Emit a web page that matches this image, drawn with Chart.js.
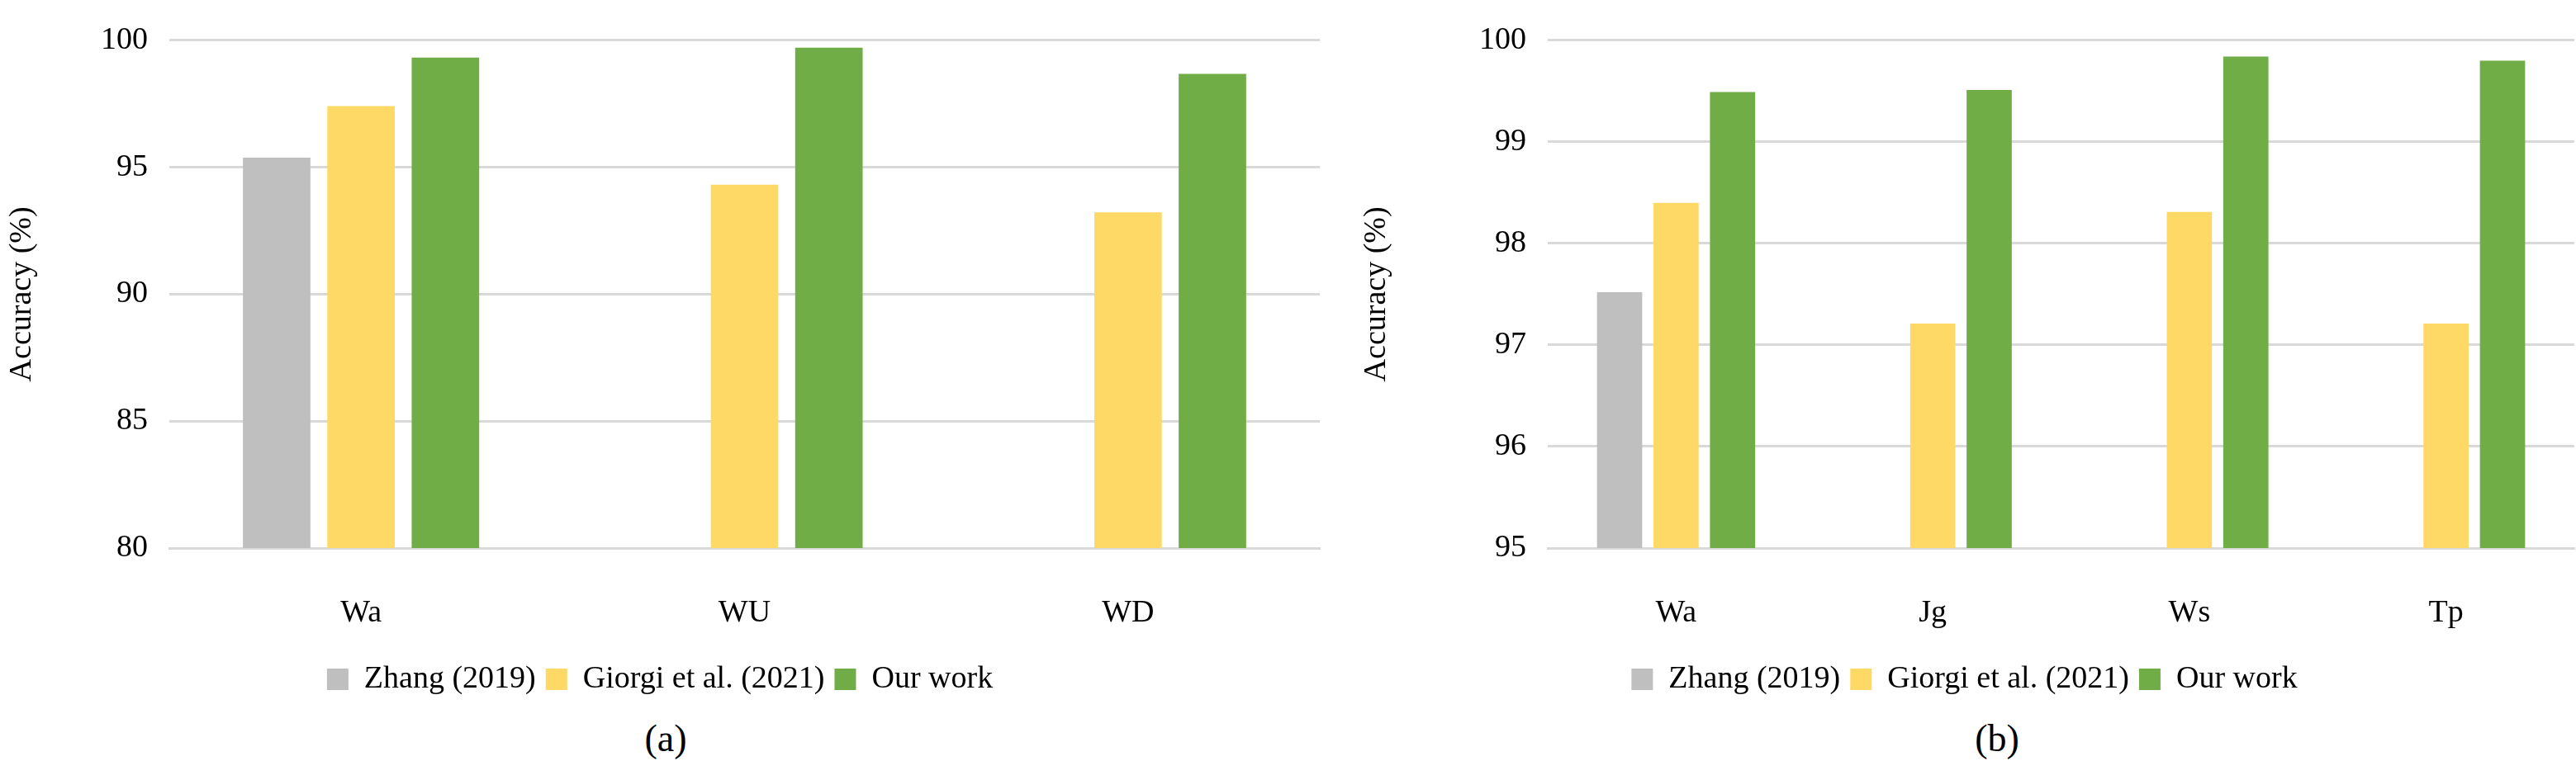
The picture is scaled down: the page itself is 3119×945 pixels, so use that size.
<!DOCTYPE html>
<html>
<head>
<meta charset="utf-8">
<script src="https://cdn.jsdelivr.net/npm/chart.js@4/dist/chart.umd.min.js"></script>
<style>
  html, body { margin: 0; padding: 0; background: #fff; }
  body { width: 3119px; height: 945px; position: relative; overflow: hidden; font-family: "Liberation Serif", serif; }
  .box { position: absolute; top: 0; }
  .cap { position: absolute; top: 868px; font-size: 46px; color: #000; transform: translateX(-50%); }
</style>
</head>
<body>
<div class="box" style="left:0;width:1600px;height:852px"><canvas id="chartA"></canvas></div>
<div class="box" style="left:1640px;width:1479px;height:852px"><canvas id="chartB"></canvas></div>
<div class="cap" style="left:806px">(a)</div>
<div class="cap" style="left:2418px">(b)</div>
<script>
  // panel (a)
  var catsA = ["Wa", "WU", "WD"];
  var zhangA = [95.38, null, null];
  var giorgiA = [97.41, 94.31, 93.22];
  var oursA = [99.32, 99.71, 98.68];
  var ticksA = [80, 85, 90, 95, 100];

  // panel (b)
  var catsB = ["Wa", "Jg", "Ws", "Tp"];
  var zhangB = [97.52, null, null, null];
  var giorgiB = [98.40, 97.21, 98.31, 97.21];
  var oursB = [99.49, 99.51, 99.84, 99.80];
  var ticksB = [95, 96, 97, 98, 99, 100];

  var names = ["Zhang (2019)", "Giorgi et al. (2021)", "Our work"];
  var colors = ["#bfbfbf", "#ffd966", "#70ad47"];
  var FONT = "'Liberation Serif', serif";

  function make(id, cats, series, ticks, yW) {
    var sets = series.map(function (d, i) {
      return { label: names[i], data: d, backgroundColor: colors[i], borderWidth: 0,
        categoryPercentage: 0.66, barPercentage: 0.8 };
    });
    return new Chart(document.getElementById(id), {
      type: "bar",
      data: { labels: cats, datasets: sets },
      options: {
        responsive: true, maintainAspectRatio: false, animation: false,
        layout: { padding: { top: 28, right: 2 } },
        plugins: {
          tooltip: { enabled: false },
          legend: {
            position: "bottom",
            labels: { font: { family: FONT, size: 38 }, color: "#000", boxWidth: 26, boxHeight: 26, padding: 12 }
          }
        },
        scales: {
          x: {
            grid: { display: false },
            border: { color: "#d9d9d9", width: 3 },
            ticks: { font: { family: FONT, size: 38 }, color: "#000", padding: 48 },
            afterFit: function (s) { s.height = 128; }
          },
          y: {
            min: ticks[0], max: ticks[ticks.length - 1],
            afterBuildTicks: function (s) { s.ticks = ticks.map(function (v) { return { value: v }; }); },
            grid: { color: "#d9d9d9", lineWidth: 3, drawTicks: false },
            border: { display: false },
            ticks: { font: { family: FONT, size: 38 }, color: "#000", padding: 26 },
            title: { display: true, text: "Accuracy (%)", font: { family: FONT, size: 38 }, color: "#000" },
            afterFit: function (s) { s.width = yW; }
          }
        }
      }
    });
  }

  make("chartA", catsA, [zhangA, giorgiA, oursA], ticksA, 205);
  make("chartB", catsB, [zhangB, giorgiB, oursB], ticksB, 234);
</script>
</body>
</html>
